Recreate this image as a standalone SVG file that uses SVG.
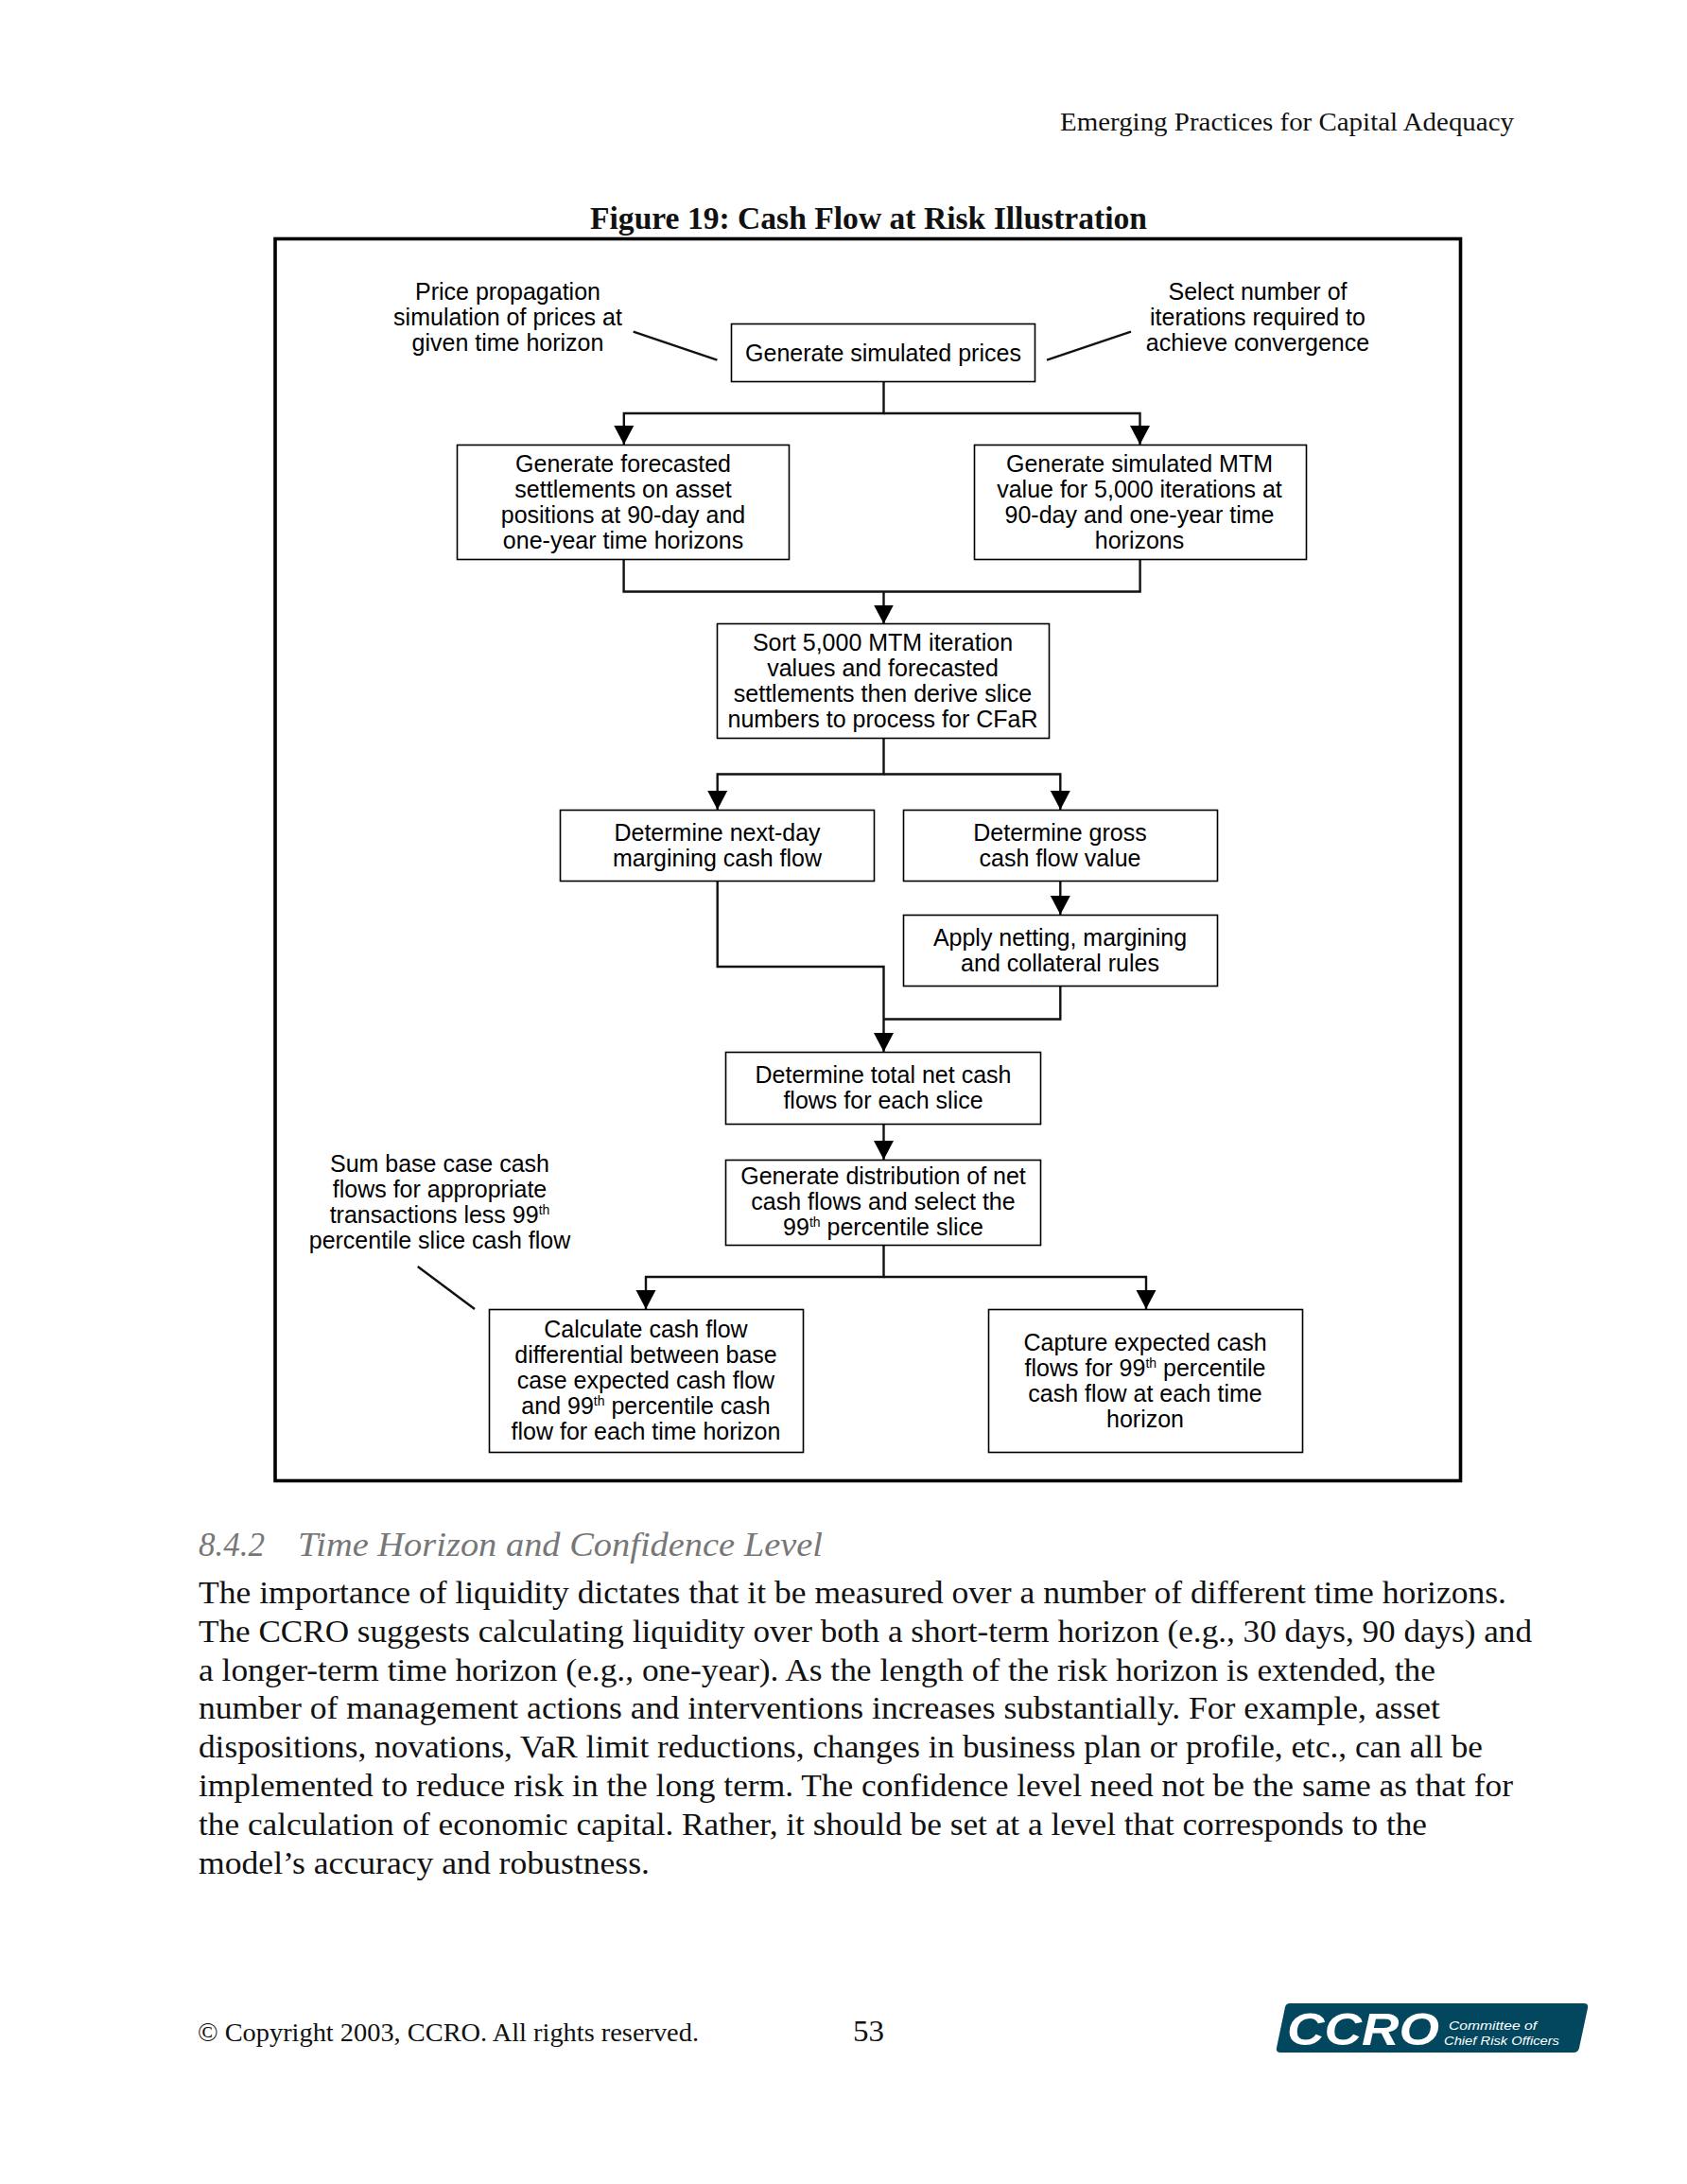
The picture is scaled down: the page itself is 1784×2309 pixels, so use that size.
<svg xmlns="http://www.w3.org/2000/svg" width="1784" height="2309" viewBox="0 0 1784 2309">
<style>
.n{fill:#fff;stroke:#000;stroke-width:1.6}
.t{font-family:"Liberation Sans",Arial,sans-serif;font-size:25px;fill:#000;text-anchor:middle}
.s{font-size:14px}
.c{fill:none;stroke:#111;stroke-width:2.4}
.a{marker-end:url(#arr)}
.b{font-family:"Liberation Serif","Times New Roman",serif;font-size:33px;fill:#111}
.h{font-family:"Liberation Serif","Times New Roman",serif;font-size:28px;fill:#111}
.g{font-family:"Liberation Serif","Times New Roman",serif;font-style:italic;font-size:35px;fill:#777}
.l{font-family:"Liberation Sans",sans-serif;font-style:italic;font-size:13px;fill:#fff}
</style>
<defs>
<marker id="arr" markerUnits="userSpaceOnUse" markerWidth="22" markerHeight="22" refX="20" refY="11" orient="auto"><path d="M0 0.5L20 11L0 21.5Z" fill="#000"/></marker>
</defs>
<rect width="1784" height="2309" fill="#fff"/>
<text class="h" x="1121" y="138" textLength="480" lengthAdjust="spacingAndGlyphs">Emerging Practices for Capital Adequacy</text>
<text x="624" y="242" textLength="589" lengthAdjust="spacingAndGlyphs" style="font-family:'Liberation Serif',serif;font-weight:bold;font-size:33px;fill:#111">Figure 19: Cash Flow at Risk Illustration</text>
<rect id="frame" x="291" y="252.5" width="1253.5" height="1313" fill="none" stroke="#000" stroke-width="3.6"/>
<g id="connectors">
<path class="c" d="M669.7 350.7L758.4 380.7"/>
<path class="c" d="M1196 350.7L1107 380.7"/>
<path class="c" d="M441.7 1339L502 1384"/>
<path class="c a" d="M934.5 403V437H659.8V470"/>
<path class="c a" d="M934.5 437H1205.5V470"/>
<path class="c" d="M659.6 591V625.5H1205.6V591"/>
<path class="c a" d="M934.5 625.5V659.5"/>
<path class="c a" d="M934.5 780V818.5H758.7V856"/>
<path class="c a" d="M934.5 818.5H1121.3V856"/>
<path class="c a" d="M1121.3 931.5V967"/>
<path class="c a" d="M758.7 931.5V1022H934.5V1112"/>
<path class="c" d="M1121.3 1042V1077.5H934.5"/>
<path class="c a" d="M934.5 1188V1226"/>
<path class="c a" d="M934.5 1316V1350H683V1384"/>
<path class="c a" d="M934.5 1350H1212V1384"/>
</g>
<g id="note-price"><text class="t"><tspan x="537" y="317">Price propagation</tspan><tspan x="537" y="344">simulation of prices at</tspan><tspan x="537" y="371">given time horizon</tspan></text></g>
<g id="note-select"><text class="t"><tspan x="1330" y="317">Select number of</tspan><tspan x="1330" y="344">iterations required to</tspan><tspan x="1330" y="371">achieve convergence</tspan></text></g>
<g id="note-sum"><text class="t"><tspan x="465" y="1239">Sum base case cash</tspan><tspan x="465" y="1266">flows for appropriate</tspan><tspan x="465" y="1293">transactions less 99<tspan class="s" dy="-9">th</tspan></tspan><tspan x="465" y="1320">percentile slice cash flow</tspan></text></g>
<g id="n1"><rect class="n" x="773.5" y="342.5" width="321" height="61"/><text class="t" x="934" y="382">Generate simulated prices</text></g>
<g id="n2"><rect class="n" x="483.5" y="470.5" width="351" height="121"/><text class="t"><tspan x="659" y="499">Generate forecasted</tspan><tspan x="659" y="526">settlements on asset</tspan><tspan x="659" y="553">positions at 90-day and</tspan><tspan x="659" y="580">one-year time horizons</tspan></text></g>
<g id="n3"><rect class="n" x="1030.5" y="470.5" width="351" height="121"/><text class="t"><tspan x="1205" y="499">Generate simulated MTM</tspan><tspan x="1205" y="526">value for 5,000 iterations at</tspan><tspan x="1205" y="553">90-day and one-year time</tspan><tspan x="1205" y="580">horizons</tspan></text></g>
<g id="n4"><rect class="n" x="758.5" y="659.5" width="351" height="121"/><text class="t"><tspan x="933.5" y="688">Sort 5,000 MTM iteration</tspan><tspan x="933.5" y="715">values and forecasted</tspan><tspan x="933.5" y="742">settlements then derive slice</tspan><tspan x="933.5" y="769">numbers to process for CFaR</tspan></text></g>
<g id="n5"><rect class="n" x="592.5" y="856.5" width="332" height="75"/><text class="t"><tspan x="758.5" y="889">Determine next-day</tspan><tspan x="758.5" y="916">margining cash flow</tspan></text></g>
<g id="n6"><rect class="n" x="955.5" y="856.5" width="332" height="75"/><text class="t"><tspan x="1121" y="889">Determine gross</tspan><tspan x="1121" y="916">cash flow value</tspan></text></g>
<g id="n7"><rect class="n" x="955.5" y="967.5" width="332" height="75"/><text class="t"><tspan x="1121" y="1000">Apply netting, margining</tspan><tspan x="1121" y="1027">and collateral rules</tspan></text></g>
<g id="n8"><rect class="n" x="767.5" y="1112.5" width="333" height="76"/><text class="t"><tspan x="934" y="1145">Determine total net cash</tspan><tspan x="934" y="1172">flows for each slice</tspan></text></g>
<g id="n9"><rect class="n" x="767.5" y="1226.5" width="333" height="90"/><text class="t"><tspan x="934" y="1252">Generate distribution of net</tspan><tspan x="934" y="1279">cash flows and select the</tspan><tspan x="934" y="1306">99<tspan class="s" dy="-9">th</tspan><tspan dy="9"> percentile slice</tspan></tspan></text></g>
<g id="n10"><rect class="n" x="517.5" y="1384.5" width="332" height="151"/><text class="t"><tspan x="683" y="1414">Calculate cash flow</tspan><tspan x="683" y="1441">differential between base</tspan><tspan x="683" y="1468">case expected cash flow</tspan><tspan x="683" y="1495">and 99<tspan class="s" dy="-9">th</tspan><tspan dy="9"> percentile cash</tspan></tspan><tspan x="683" y="1522">flow for each time horizon</tspan></text></g>
<g id="n11"><rect class="n" x="1045.5" y="1384.5" width="332" height="151"/><text class="t"><tspan x="1211" y="1428">Capture expected cash</tspan><tspan x="1211" y="1455">flows for 99<tspan class="s" dy="-9">th</tspan><tspan dy="9"> percentile</tspan></tspan><tspan x="1211" y="1482">cash flow at each time</tspan><tspan x="1211" y="1509">horizon</tspan></text></g>
<text class="g" x="210" y="1645" textLength="70" lengthAdjust="spacingAndGlyphs">8.4.2</text>
<text class="g" x="315" y="1645" textLength="555" lengthAdjust="spacingAndGlyphs">Time Horizon and Confidence Level</text>
<g id="body">
<text class="b" x="210" y="1695" textLength="1383" lengthAdjust="spacingAndGlyphs">The importance of liquidity dictates that it be measured over a number of different time horizons.</text>
<text class="b" x="210" y="1736" textLength="1410" lengthAdjust="spacingAndGlyphs">The CCRO suggests calculating liquidity over both a short-term horizon (e.g., 30 days, 90 days) and</text>
<text class="b" x="210" y="1777" textLength="1308" lengthAdjust="spacingAndGlyphs">a longer-term time horizon (e.g., one-year). As the length of the risk horizon is extended, the</text>
<text class="b" x="210" y="1817" textLength="1313" lengthAdjust="spacingAndGlyphs">number of management actions and interventions increases substantially. For example, asset</text>
<text class="b" x="210" y="1858" textLength="1358" lengthAdjust="spacingAndGlyphs">dispositions, novations, VaR limit reductions, changes in business plan or profile, etc., can all be</text>
<text class="b" x="210" y="1899" textLength="1390" lengthAdjust="spacingAndGlyphs">implemented to reduce risk in the long term. The confidence level need not be the same as that for</text>
<text class="b" x="210" y="1940" textLength="1299" lengthAdjust="spacingAndGlyphs">the calculation of economic capital. Rather, it should be set at a level that corresponds to the</text>
<text class="b" x="210" y="1981" textLength="477" lengthAdjust="spacingAndGlyphs">model’s accuracy and robustness.</text>
</g>
<text class="h" x="209" y="2158" textLength="530" lengthAdjust="spacingAndGlyphs">© Copyright 2003, CCRO. All rights reserved.</text>
<text class="h" x="902" y="2158" style="font-size:31px" textLength="33" lengthAdjust="spacingAndGlyphs">53</text>
<g id="logo">
<path d="M1364 2118H1675Q1680 2118 1679 2123L1670 2165Q1669 2170 1664 2170H1354Q1349 2170 1350 2165L1359 2122Q1360 2118 1364 2118Z" fill="#03475f"/>
<text x="1361" y="2162" textLength="161" lengthAdjust="spacingAndGlyphs" style="font-family:'Liberation Sans',sans-serif;font-weight:bold;font-style:italic;font-size:49px;fill:#fff">CCRO</text>
<text class="l" x="1532" y="2146" textLength="93" lengthAdjust="spacingAndGlyphs">Committee of</text>
<text class="l" x="1527" y="2162" textLength="122" lengthAdjust="spacingAndGlyphs">Chief Risk Officers</text>
</g>
</svg>
